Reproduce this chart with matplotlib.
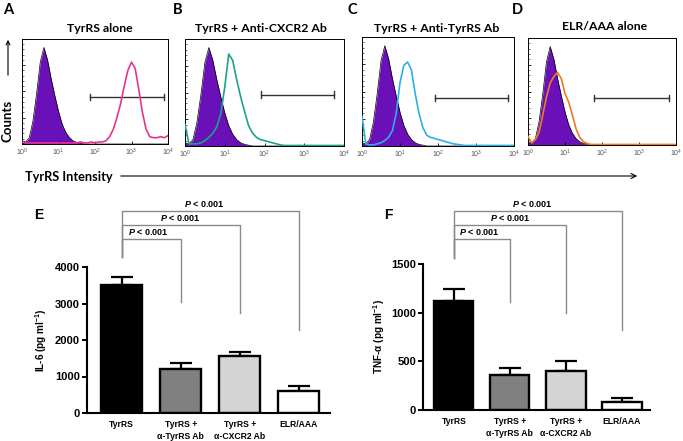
import numpy as np
import matplotlib
matplotlib.use('Agg')
import matplotlib.pyplot as plt
from matplotlib.patches import FancyArrowPatch
from matplotlib.ticker import MultipleLocator, NullFormatter

# ---------------- data ----------------
log_intensity = [0.0, 0.1, 0.2, 0.3, 0.4, 0.5, 0.6, 0.7, 0.8, 0.9,
                 1.0, 1.1, 1.2, 1.3, 1.4, 1.5, 1.6, 1.7, 1.8, 1.9,
                 2.0, 2.1, 2.2, 2.3, 2.4, 2.5, 2.6, 2.7, 2.8, 2.9,
                 3.0, 3.1, 3.2, 3.3, 3.4, 3.5, 3.6, 3.7, 3.8, 3.9, 4.0]

control_counts = [0.03, 0.02, 0.06, 0.22, 0.48, 0.78, 0.92, 0.80, 0.62, 0.46,
                  0.31, 0.19, 0.11, 0.06, 0.03, 0.015, 0.008, 0.0, 0.0, 0.0,
                  0.0, 0.0, 0.0, 0.0, 0.0, 0.0, 0.0, 0.0, 0.0, 0.0,
                  0.0, 0.0, 0.0, 0.0, 0.0, 0.0, 0.0, 0.0, 0.0, 0.0, 0.0]

tyrrs_alone = [0.02, 0.01, 0.01, 0.01, 0.01, 0.01, 0.01, 0.01, 0.01, 0.01,
               0.01, 0.01, 0.01, 0.01, 0.01, 0.01, 0.02, 0.01, 0.01, 0.02,
               0.01, 0.02, 0.02, 0.03, 0.07, 0.14, 0.25, 0.38, 0.55, 0.70,
               0.78, 0.72, 0.52, 0.30, 0.14, 0.07, 0.06, 0.06, 0.07, 0.06, 0.08]

tyrrs_anti_cxcr2 = [0.20, 0.02, 0.02, 0.02, 0.03, 0.05, 0.08, 0.12, 0.18, 0.30,
                    0.55, 0.86, 0.80, 0.62, 0.46, 0.32, 0.19, 0.12, 0.08, 0.06,
                    0.05, 0.04, 0.03, 0.02, 0.01, 0.005, 0.005, 0.005, 0.005, 0.005,
                    0.005, 0.005, 0.005, 0.005, 0.005, 0.005, 0.005, 0.005, 0.005, 0.005, 0.005]

tyrrs_anti_tyrrs = [0.27, 0.02, 0.01, 0.01, 0.02, 0.03, 0.05, 0.08, 0.14, 0.30,
                    0.58, 0.74, 0.77, 0.70, 0.48, 0.30, 0.17, 0.10, 0.08, 0.07,
                    0.06, 0.05, 0.04, 0.03, 0.02, 0.015, 0.01, 0.005, 0.005, 0.005,
                    0.005, 0.005, 0.005, 0.005, 0.005, 0.005, 0.005, 0.005, 0.005, 0.005, 0.005]

elr_aaa_alone = [0.08, 0.02, 0.05, 0.12, 0.28, 0.45, 0.58, 0.64, 0.68, 0.62,
                 0.48, 0.40, 0.28, 0.15, 0.07, 0.03, 0.015, 0.005, 0.005, 0.005,
                 0.005, 0.005, 0.005, 0.005, 0.005, 0.005, 0.005, 0.005, 0.005, 0.005,
                 0.005, 0.005, 0.005, 0.005, 0.005, 0.005, 0.005, 0.005, 0.005, 0.005, 0.005]

hist_titles = ["TyrRS alone", "TyrRS + Anti-CXCR2 Ab", "TyrRS + Anti-TyrRS Ab", "ELR/AAA alone"]
hist_letters = ["A", "B", "C", "D"]
hist_colors = ["#e8338e", "#1fa088", "#2bb0e6", "#f07a22"]
gate_start_log = [1.85, 1.92, 1.91, 1.79]
gate_end_log = [3.90, 3.76, 3.84, 3.82]
gate_level = [0.45, 0.48, 0.44, 0.44]

conditions = ["TyrRS", "TyrRS +\nα-TyrRS Ab", "TyrRS +\nα-CXCR2 Ab", "ELR/AAA"]
il6_mean = [3500, 1210, 1565, 610]
il6_sem = [230, 155, 100, 135]
tnf_mean = [1122, 360, 402, 79]
tnf_sem = [120, 70, 103, 48]
p_labels = [r"$\mathbfit{P}$ < 0.001", r"$\mathbfit{P}$ < 0.001", r"$\mathbfit{P}$ < 0.001"]

# ---------------- figure ----------------
W, H = 683, 441
plt.rcParams['font.family'] = ['Liberation Sans', 'DejaVu Sans']
plt.rcParams['mathtext.fontset'] = 'custom'
plt.rcParams['mathtext.rm'] = 'Liberation Sans'
plt.rcParams['mathtext.bf'] = 'Liberation Sans:bold'
plt.rcParams['mathtext.it'] = 'Liberation Sans:italic'
plt.rcParams['mathtext.bfit'] = 'Liberation Sans:italic:bold'
fig = plt.figure(figsize=(W / 100, H / 100), dpi=100)

def fx(x):
    return x / W

def fy(y):
    return 1 - y / H

def rect(l, t, r, b):
    return [fx(l), fy(b), (r - l) / W, (b - t) / H]

hist_font = ['Lato', 'DejaVu Sans']
purple = '#6a10b8'

hist_rects = [rect(22, 39, 168, 144), rect(185, 39, 344, 146),
              rect(362, 37, 514, 146), rect(528, 38, 676, 145)]
sample_series = [tyrrs_alone, tyrrs_anti_cxcr2, tyrrs_anti_tyrrs, elr_aaa_alone]
title_pos = [(100, 29), (261, 29), (437, 28), (605, 27)]
letter_pos = [(3, 10), (173, 10), (348, 10), (512, 10)]

xvals = [10 ** v for v in log_intensity]
for i in range(4):
    ax = fig.add_axes(hist_rects[i])
    ax.fill_between(xvals, control_counts, 0, color=purple, lw=0, zorder=1)
    ax.plot(xvals, control_counts, color='black', lw=0.5, zorder=2)
    ax.plot(xvals, sample_series[i], color=hist_colors[i], lw=1.2, zorder=3)
    g0, g1, gl = 10 ** gate_start_log[i], 10 ** gate_end_log[i], gate_level[i]
    ax.plot([g0, g1], [gl, gl], color='#333333', lw=1.0)
    ax.plot([g0, g0], [gl - 0.03, gl + 0.03], color='#333333', lw=1.0)
    ax.plot([g1, g1], [gl - 0.03, gl + 0.03], color='#333333', lw=1.0)
    ax.set_xscale('log')
    ax.set_xlim(1, 1e4)
    ax.set_ylim(0, 1.0)
    ax.set_xticks([1, 10, 100, 1000, 10000])
    ax.set_xticklabels([r'$10^0$', r'$10^1$', r'$10^2$', r'$10^3$', r'$10^4$'],
                       fontsize=5, color='#555555')
    ax.tick_params(axis='x', which='major', direction='in', length=2.5, width=0.6, pad=2)
    ax.tick_params(axis='x', which='minor', direction='in', length=1.2, width=0.4)
    ax.xaxis.set_minor_formatter(NullFormatter())
    ax.yaxis.set_major_locator(MultipleLocator(0.25))
    ax.yaxis.set_minor_locator(MultipleLocator(0.05))
    ax.set_yticklabels([])
    ax.tick_params(axis='y', which='major', direction='in', length=2.5, width=0.6)
    ax.tick_params(axis='y', which='minor', direction='in', length=1.3, width=0.4)
    for s in ax.spines.values():
        s.set_linewidth(0.7)
    fig.text(fx(title_pos[i][0]), fy(title_pos[i][1]), hist_titles[i], ha='center',
             va='center', fontsize=8.8, fontweight='bold', family=hist_font)
    fig.text(fx(letter_pos[i][0]), fy(letter_pos[i][1]), hist_letters[i], ha='left',
             va='center', fontsize=10.5, fontweight='bold', family=hist_font)

# Counts label and arrow
fig.text(fx(8), fy(121), "Counts", rotation=90, ha='center', va='center',
         fontsize=9.5, fontweight='bold', family=hist_font)
fig.patches.append(FancyArrowPatch((fx(8), fy(78)), (fx(8), fy(37)),
                                   transform=fig.transFigure, arrowstyle='->',
                                   mutation_scale=7, lw=0.8, color='black'))
# TyrRS Intensity label and arrow
fig.text(fx(25), fy(177), "TyrRS Intensity", ha='left', va='center',
         fontsize=9.2, fontweight='bold', family=hist_font)
fig.patches.append(FancyArrowPatch((fx(118), fy(176)), (fx(640), fy(176)),
                                   transform=fig.transFigure, arrowstyle='->',
                                   mutation_scale=9, lw=0.8, color='black'))

# ---------------- bar panels ----------------
bar_colors = ['black', '#808080', '#d4d4d4', 'white']

def bar_panel(axrect, means, sems, ymax, ystep, ylabel, letter, letter_px,
              left_low, tops, drops, xlim, label_x, ylab_x):
    ax = fig.add_axes(axrect)
    x = np.arange(len(means))
    ax.bar(x, means, width=0.7, color=bar_colors, edgecolor='black', linewidth=1.7, zorder=2)
    ax.errorbar(x, means, yerr=[np.zeros(len(sems)), sems], fmt='none', ecolor='black',
                elinewidth=1.6, capsize=8, capthick=1.6, zorder=1)
    ax.set_xlim(*xlim)
    ax.set_ylim(0, ymax)
    ax.set_yticks(np.arange(0, ymax + 1, ystep))
    ax.set_xticks(x)
    ax.set_xticklabels(conditions, fontsize=6.2, fontweight='bold', linespacing=1.45)
    for lab in ax.get_yticklabels():
        lab.set_fontweight('bold')
        lab.set_fontsize(8)
    ax.tick_params(axis='y', length=3.5, width=1.4, pad=1.5)
    ax.tick_params(axis='x', length=0, pad=5)
    for s in ['top', 'right']:
        ax.spines[s].set_visible(False)
    for s in ['left', 'bottom']:
        ax.spines[s].set_linewidth(1.5)
    ax.set_ylabel(ylabel, fontsize=7.2, fontweight='bold')
    ax.yaxis.set_label_coords(ylab_x, 0.5)
    gray = '#8a8a8a'
    for k in range(3):
        xr = k + 1
        ax.plot([0, 0, xr, xr], [left_low, tops[k], tops[k], drops[k]], color=gray,
                lw=1.0, clip_on=False, zorder=3)
        ax.text(label_x[k], tops[k] + ymax * 0.012, p_labels[k], ha='center', va='bottom',
                fontsize=6.5, fontweight='bold', clip_on=False)
    fig.text(fx(letter_px[0]), fy(letter_px[1]), letter, ha='left', va='center',
             fontsize=10, fontweight='bold')
    return ax

axE = bar_panel(rect(87, 267, 330, 413), il6_mean, il6_sem, 4000, 1000,
                r'IL-6 (pg ml$^{\mathbf{-1}}$)', 'E', (34, 215),
                4274, [4767, 5150, 5534], [3041, 2740, 2274], (-0.59, 3.53),
                [0.45, 1.0, 1.4], -0.155)
axF = bar_panel(rect(423, 264, 650, 410), tnf_mean, tnf_sem, 1500, 500,
                r'TNF-α (pg ml$^{\mathbf{-1}}$)', 'F', (384, 215),
                1562, [1757, 1901, 2045], [1110, 997, 822], (-0.55, 3.5),
                [0.45, 1.0, 1.4], -0.16)

fig.savefig('out.png', dpi=100)
